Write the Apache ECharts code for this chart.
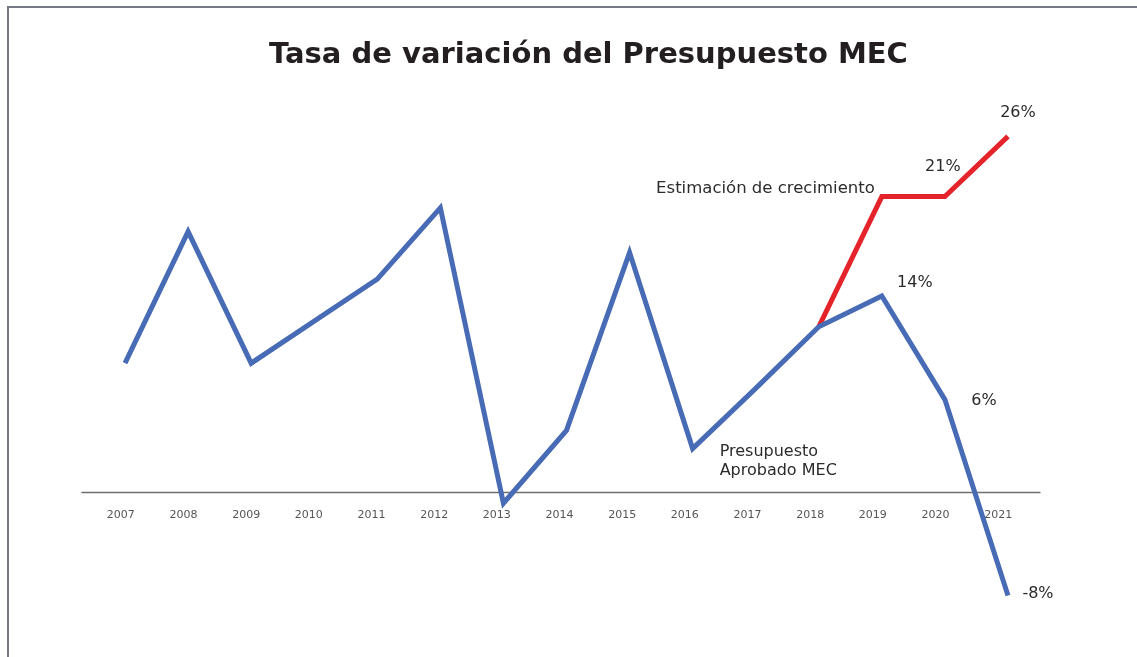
<!DOCTYPE html>
<html>
<head>
<meta charset="utf-8">
<script src="https://cdn.jsdelivr.net/npm/echarts@6/dist/echarts.min.js"></script>
<style>
  html, body { margin: 0; padding: 0; background: #fff; }
  #frame { position: absolute; left: 7px; top: 6px; width: 1140px; height: 660px;
           border-top: 2px solid #767a88; border-left: 2px solid #767a88; }
  #chart { position: absolute; left: 0; top: 0; width: 1137px; height: 657px; }
</style>
</head>
<body>
<div id="frame"></div>
<div id="chart"></div>
<script>
const years = ['2007', '2008', '2009', '2010', '2011', '2012', '2013', '2014',
  '2015', '2016', '2017', '2018', '2019', '2020', '2021']
// Presupuesto aprobado MEC, tasa de variación (%)
const approved = [9.2, 18.6, 9.2, 12.2, 15.2, 20.3, -0.8, 4.4, 17.1, 3.1, 7.4, 11.8, 14.0, 6.6, -7.4]
const approvedLabels = ['', '', '', '', '', '', '', '', '', '', '', '', '14%', '6%', '-8%']
// Estimación de crecimiento, desde 2018
const estimate = [null, null, null, null, null, null, null, null, null, null, null, 11.8, 21.1, 21.1, 25.4]
const estimateLabels = ['', '', '', '', '', '', '', '', '', '', '', '', '', '21%', '26%']

const FONT = 'DejaVu Sans'
const TEXT = '#2b2b2b'
const Y_MIN = -10
const Y_MAX = 30
const labelOffsets = {
  '14%': [33, -13], '6%': [39, 1], '-8%': [30, -2], '21%': [-2, -30], '26%': [10, -24]
}

function pointLabel(text) {
  if (!text) return { show: false }
  return {
    show: true, position: 'inside', offset: labelOffsets[text],
    formatter: text, color: TEXT, fontSize: 16, fontFamily: FONT
  }
}

const approvedData = approved.map((v, i) => {
  const item = { value: v, label: pointLabel(approvedLabels[i]) }
  if (years[i] === '2016') {
    item.label = {
      show: true, position: 'inside', offset: [27, 13], align: 'left',
      formatter: 'Presupuesto\nAprobado MEC', lineHeight: 19,
      color: TEXT, fontSize: 16, fontFamily: FONT
    }
  }
  return item
})

const estimateData = estimate.map((v, i) => {
  const item = { value: v, label: pointLabel(estimateLabels[i]) }
  if (years[i] === '2019') {
    item.label = {
      show: true, position: 'inside', offset: [-7, -8], align: 'right',
      formatter: 'Estimación de crecimiento',
      color: TEXT, fontSize: 16.5, fontFamily: FONT
    }
  }
  return item
})

const hiddenY = (gridIndex) => ({ type: 'value', gridIndex, min: Y_MIN, max: Y_MAX, show: false })

const chart = echarts.init(document.getElementById('chart'))
chart.setOption({
  animation: false,
  title: {
    text: 'Tasa de variación del Presupuesto MEC',
    left: 264, top: 36,
    textStyle: { fontFamily: FONT, fontSize: 29, fontWeight: 'bold', color: '#231f20' }
  },
  grid: [
    // data grid
    { left: 93.5, right: 97.5, top: 72, bottom: 25, outerBoundsMode: 'none' },
    // slightly wider grid, only for the zero line
    { left: 82, right: 97, top: 72, bottom: 25, outerBoundsMode: 'none' },
    // year labels sit a little left of the points in the original
    { left: 89.5, right: 107.5, top: 72, bottom: 25, outerBoundsMode: 'none' }
  ],
  xAxis: [
    {
      type: 'category', data: years, gridIndex: 0, boundaryGap: true,
      axisLine: { show: false }, axisTick: { show: false }, axisLabel: { show: false }
    },
    {
      type: 'value', gridIndex: 1, min: 0, max: 1,
      axisLine: { show: true, onZero: true, lineStyle: { color: '#6e6e6e', width: 1.3 } },
      axisTick: { show: false }, axisLabel: { show: false }, splitLine: { show: false }
    },
    {
      type: 'category', data: years, gridIndex: 2, boundaryGap: true,
      position: 'bottom', offset: -140,
      axisLine: { show: false, onZero: false }, axisTick: { show: false },
      axisLabel: { color: '#555', fontSize: 11, fontFamily: FONT, margin: 18 }
    }
  ],
  yAxis: [hiddenY(0), hiddenY(1), hiddenY(2)],
  series: [
    {
      name: 'Presupuesto Aprobado MEC', type: 'line', data: approvedData,
      xAxisIndex: 0, yAxisIndex: 0, z: 3,
      symbol: 'circle', symbolSize: 0.1, showSymbol: true,
      lineStyle: { color: '#486bb5', width: 5, join: 'miter' },
      itemStyle: { color: '#486bb5' }
    },
    {
      name: 'Estimación de crecimiento', type: 'line', data: estimateData,
      xAxisIndex: 0, yAxisIndex: 0, z: 2,
      symbol: 'circle', symbolSize: 0.1, showSymbol: true,
      lineStyle: { color: '#e5232b', width: 5, join: 'miter' },
      itemStyle: { color: '#e5232b' }
    },
    { type: 'line', data: [], xAxisIndex: 1, yAxisIndex: 1 },
    { type: 'line', data: [], xAxisIndex: 2, yAxisIndex: 2 }
  ]
})
</script>
</body>
</html>
